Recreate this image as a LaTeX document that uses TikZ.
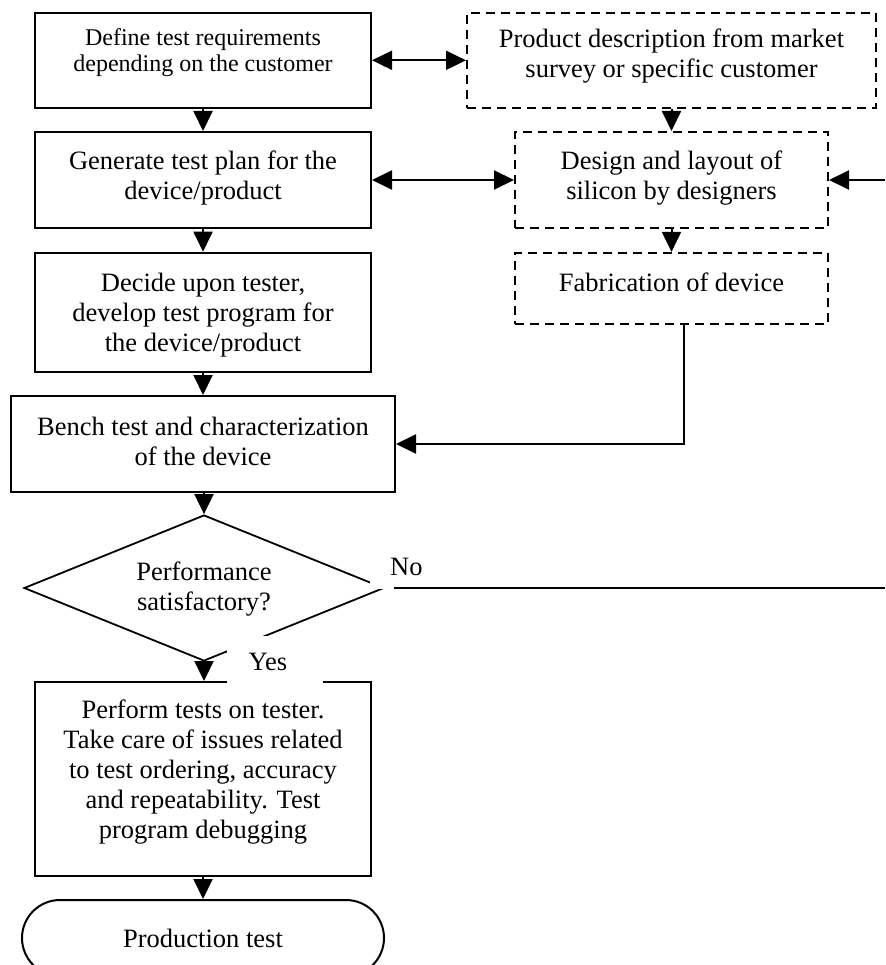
\documentclass[tikz,border=0pt]{standalone}
\usepackage{fontspec}
\setmainfont{Liberation Serif}
\usetikzlibrary{arrows.meta,shapes.geometric,shapes.misc}
\begin{document}
\begin{tikzpicture}[x=1pt,y=-1pt,
  box/.style={draw, line width=2pt, inner sep=0pt},
  dbox/.style={draw, line width=2pt, inner sep=0pt, dash pattern=on 9pt off 6pt},
  txt/.style={align=center, font=\fontsize{26.5}{30}\selectfont, inner sep=0pt},
  stxt/.style={align=center, font=\fontsize{24}{26}\selectfont, inner sep=0pt},
  arr/.style={line width=2pt, -{Triangle[length=20pt,width=19pt]}},
  darr/.style={line width=2pt, {Triangle[length=20pt,width=19pt]}-{Triangle[length=20pt,width=19pt]}},
  mask/.style={fill=white, inner sep=0pt}
]
\useasboundingbox (0,0) rectangle (885,965);
\begin{scope}
\clip (0,0) rectangle (885,965);
% boxes
\node[box, minimum width=336pt, minimum height=95pt] (req) at (203,60.3) {};
\node[stxt] (reqT) at (203,53) {Define test requirements\\depending on the customer};
\node[dbox, minimum width=409pt, minimum height=95pt] (prod) at (671.5,60.3) {};
\node[txt] (prodT) at (671.5,56) {Product description from market\\survey or specific customer};
\node[box, minimum width=336pt, minimum height=96pt] (plan) at (203,180) {};
\node[txt] (planT) at (203,178) {Generate test plan for the\\device/product};
\node[dbox, minimum width=313pt, minimum height=96pt] (design) at (671.5,180) {};
\node[txt] (designT) at (671.5,178) {Design and layout of\\silicon by designers};
\node[box, minimum width=336pt, minimum height=119pt] (decide) at (203,312.2) {};
\node[txt] (decideT) at (203,315) {Decide upon tester,\\develop test program for\\the device/product};
\node[dbox, minimum width=313pt, minimum height=71pt] (fab) at (671.5,288.4) {};
\node[txt] (fabT) at (671.5,282) {Fabrication of device};
\node[box, minimum width=384pt, minimum height=96pt] (bench) at (203,444) {};
\node[txt] (benchT) at (203,441) {Bench test and characterization\\of the device};
\node[draw, diamond, line width=1.8pt, minimum width=360pt, minimum height=146pt, inner sep=0pt] (dec) at (204,588) {};
\node[txt] (decT) at (204,589) {Performance\\satisfactory?};
\node[box, minimum width=336pt, minimum height=194pt] (perf) at (203,779) {};
\node[txt] (perfT) at (203,772) {Perform tests on tester.\\Take care of issues related\\to test ordering, accuracy\\and repeatability. Test\\program debugging};
\node[draw, rounded rectangle, line width=2pt, minimum width=362pt, minimum height=76pt, txt] (ptest) at (203,938) {Production test};
% connectors
\coordinate (rin) at (885,180);
\coordinate (nout) at (885,588);
\draw[arr] (req) -- (plan);
\draw[arr] (plan) -- (decide);
\draw[arr] (decide) -- (bench);
\draw[arr] (dec.north |- bench.south) -- (dec.north);
\draw[arr] (dec.south) -- (dec.south |- perf.north);
\draw[arr] (perf) -- (ptest);
\draw[darr] (req.east) -- (prod.west);
\draw[darr] (plan.east) -- (design.west);
\draw[arr] (prod) -- (design);
\draw[arr] (design) -- (fab);
\draw[arr] (rin) -- (design.east);
\draw[arr] ([xshift=12.5pt]fab.south) |- (bench.east);
\draw[line width=2pt] (dec.east) -- (nout);
% label masks and labels
\node[mask, minimum width=24pt, minimum height=44pt] (noM) at (382,567) {};
\node[mask, minimum width=96pt, minimum height=48pt] (yesM) at (275,660) {};
\node[txt, anchor=base west] (noT) at (390,575) {No};
\node[txt, anchor=base] (yesT) at (268,670) {Yes};
\end{scope}
\end{tikzpicture}
\end{document}
